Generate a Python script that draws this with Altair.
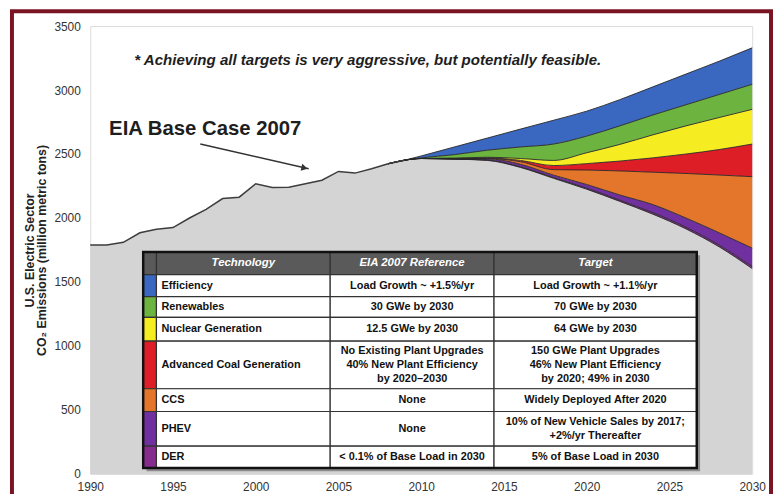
import altair as alt
import pandas as pd

# ---------------- data ----------------
hist_years = list(range(1990, 2010))
hist_values = [1790, 1790, 1810, 1885, 1912, 1925, 2000, 2068, 2152, 2163,
               2268, 2238, 2240, 2268, 2295, 2364, 2351, 2385, 2424, 2452]

fc_years = [2008, 2009, 2010, 2012, 2014, 2016, 2018, 2020, 2022, 2024, 2026, 2028, 2030]
target_values = [2424, 2452, 2465, 2460, 2450, 2395, 2310, 2225, 2130, 2030, 1915, 1775, 1605]
der = [0, 0, 0, 1, 3, 5, 6, 8, 10, 12, 13, 14, 15]
phev = [0, 0, 0, 1, 9, 20, 19, 29, 40, 63, 72, 96, 145]
ccs = [0, 0, 0, 0, 3, 20, 43, 113, 188, 253, 348, 451, 558]
coal = [0, 0, 0, 2, 5, 10, 32, 50, 77, 112, 152, 199, 255]
nuclear = [0, 0, 1, 4, 5, 15, 40, 85, 130, 180, 220, 250, 271]
renewables = [0, 0, 4, 27, 55, 90, 128, 130, 145, 155, 165, 180, 196]
efficiency = [0, 0, 15, 60, 95, 140, 186, 195, 205, 220, 240, 260, 285]

tech_names = ["Efficiency", "Renewables", "Nuclear Generation",
              "Advanced Coal Generation", "CCS", "PHEV", "DER"]
tech_colors = ["#3a67c0", "#6cb33f", "#f6ec22", "#dd1e26", "#e4762b", "#7030a0", "#862c8f"]
eia_ref = ["Load Growth ~ +1.5%/yr", "30 GWe by 2030", "12.5 GWe by 2030",
           "No Existing Plant Upgrades\n40% New Plant Efficiency\nby 2020\u20132030",
           "None", "None", "< 0.1% of Base Load in 2030"]
targets = ["Load Growth ~ +1.1%/yr", "70 GWe by 2030", "64 GWe by 2030",
           "150 GWe Plant Upgrades\n46% New Plant Efficiency\nby 2020; 49% in 2030",
           "Widely Deployed After 2020",
           "10% of New Vehicle Sales by 2017;\n+2%/yr Thereafter",
           "5% of Base Load in 2030"]
headers = ["Technology", "EIA 2007 Reference", "Target"]

x_ticks = list(range(1990, 2031, 5))
y_ticks = list(range(0, 3501, 500))

# ---------------- layout constants (plot units) ----------------
tbl_x = [1993.2, 1994.0, 2004.5, 2014.4, 2026.65]
tbl_y = [1735, 1557, 1386, 1223, 1038, 666, 488, 217, 46]
FONT = "Liberation Sans"
LINE_H = 14.5
TFS = 11

# ---------------- build tables ----------------
wedge_order = ["DER", "PHEV", "CCS", "Advanced Coal Generation",
               "Nuclear Generation", "Renewables", "Efficiency"]
wedge_vals = {"DER": der, "PHEV": phev, "CCS": ccs, "Advanced Coal Generation": coal,
              "Nuclear Generation": nuclear, "Renewables": renewables, "Efficiency": efficiency}
color_of = dict(zip(tech_names, tech_colors))

band_rows, line_rows = [], []
cum = list(target_values)
for y, v in zip(fc_years, cum):
    line_rows.append({"year": y, "v": v, "b": "target"})
for name in wedge_order:
    new = [c + w for c, w in zip(cum, wedge_vals[name])]
    for yr, lo, hi in zip(fc_years, cum, new):
        band_rows.append({"year": yr, "lo": lo, "hi": hi, "tech": name, "fill": color_of[name]})
        line_rows.append({"year": yr, "v": hi, "b": name})
    cum = new
band_df = pd.DataFrame(band_rows)
line_df = pd.DataFrame(line_rows)
hist_df = pd.DataFrame({"year": hist_years, "v": hist_values})
fc_df = pd.DataFrame({"year": fc_years, "v": target_values})

# table cells
cells = []
for c in range(4):
    cells.append({"x0": tbl_x[c], "x1": tbl_x[c + 1], "y0": tbl_y[0], "y1": tbl_y[1], "fill": "#5a5a5a"})
for r in range(7):
    for c in range(4):
        cells.append({"x0": tbl_x[c], "x1": tbl_x[c + 1], "y0": tbl_y[r + 1], "y1": tbl_y[r + 2],
                      "fill": tech_colors[r] if c == 0 else "#ffffff"})
cell_df = pd.DataFrame(cells)

head_df = pd.DataFrame({
    "x": [(tbl_x[1] + tbl_x[2]) / 2, (tbl_x[2] + tbl_x[3]) / 2, (tbl_x[3] + tbl_x[4]) / 2],
    "y": [(tbl_y[0] + tbl_y[1]) / 2] * 3,
    "t": headers})
mid_y = [(tbl_y[r + 1] + tbl_y[r + 2]) / 2 for r in range(7)]
tech_df = pd.DataFrame({"x": [tbl_x[1] + 0.3] * 7, "y": mid_y, "t": tech_names})
center_df = pd.DataFrame({
    "x": [(tbl_x[2] + tbl_x[3]) / 2] * 7 + [(tbl_x[3] + tbl_x[4]) / 2] * 7,
    "y": mid_y + mid_y,
    "t": eia_ref + targets})
center_df["n"] = center_df["t"].str.count("\n") + 1
outer_df = pd.DataFrame({"x0": [tbl_x[0]], "x1": [tbl_x[-1]], "y0": [tbl_y[0]], "y1": [tbl_y[-1]]})
shadow_df = pd.DataFrame({"x0": [tbl_x[0] + 0.2], "x1": [tbl_x[-1] + 0.2],
                          "y0": [tbl_y[0] - 25], "y1": [tbl_y[-1] - 25]})

arrow_df = pd.DataFrame({"x": [1996.65], "y": [2578], "x2": [2003.2], "y2": [2385]})
head_pt = pd.DataFrame({"x": [2002.95], "y": [2391]})
label_df = pd.DataFrame({"x": [1991.14], "y": [2695], "t": ["EIA Base Case 2007"]})
note_df = pd.DataFrame({"x": [2006.77], "y": [3237],
                        "t": ["* Achieving all targets is very aggressive, but potentially feasible."]})

# ---------------- chart ----------------
xscale = alt.Scale(domain=[1990, 2030], nice=False, zero=False)
yscale = alt.Scale(domain=[0, 3500], nice=False)
xaxis = alt.Axis(values=x_ticks, format="d", title=None, ticks=False, domain=False, grid=False,
                 labelFlush=False, labelFontSize=12, labelColor="#333333", labelPadding=8,
                 labelFont=FONT)
yaxis = alt.Axis(values=y_ticks, format="d", ticks=False, domain=False, grid=False,
                 labelFlush=False, labelFontSize=12, labelColor="#333333", labelPadding=10,
                 labelFont=FONT,
                 title=["U.S. Electric Sector", "CO\u2082 Emissions (million metric tons)"],
                 titleFontSize=12.5, titleFontWeight="bold", titleColor="#222222",
                 titlePadding=5, titleFont=FONT, titleLineHeight=13)


def X(f):
    return alt.X(f, scale=xscale, axis=xaxis)


def Y(f):
    return alt.Y(f, scale=yscale, axis=yaxis)


gray_hist = alt.Chart(hist_df).mark_area(color="#d4d4d4").encode(x=X("year:Q"), y=Y("v:Q"))
gray_fc = alt.Chart(fc_df).mark_area(color="#d4d4d4", interpolate="monotone").encode(
    x=X("year:Q"), y=Y("v:Q"))
bands = alt.Chart(band_df).mark_area(interpolate="monotone").encode(
    x=X("year:Q"), y=Y("lo:Q"), y2="hi:Q",
    fill=alt.Fill("fill:N", scale=None), detail="tech:N")
blines = alt.Chart(line_df).mark_line(interpolate="monotone", color="#262626", strokeWidth=0.9).encode(
    x=X("year:Q"), y=Y("v:Q"), detail="b:N")
hist_line = alt.Chart(hist_df).mark_line(color="#3d3d3d", strokeWidth=1.5).encode(
    x=X("year:Q"), y=Y("v:Q"))

shadow = alt.Chart(shadow_df).mark_rect(color="#8c8c8c").encode(
    x=X("x0:Q"), x2="x1:Q", y=Y("y0:Q"), y2="y1:Q")
cell_layer = alt.Chart(cell_df).mark_rect(stroke="#333333", strokeWidth=1.2).encode(
    x=X("x0:Q"), x2="x1:Q", y=Y("y0:Q"), y2="y1:Q",
    fill=alt.Fill("fill:N", scale=None))
outer = alt.Chart(outer_df).mark_rect(fill="transparent", stroke="#111111", strokeWidth=2.5).encode(
    x=X("x0:Q"), x2="x1:Q", y=Y("y0:Q"), y2="y1:Q")

head_txt = alt.Chart(head_df).mark_text(font=FONT, fontSize=11.5, fontWeight="bold", fontStyle="italic",
                                        color="#ffffff", baseline="middle").encode(
    x=X("x:Q"), y=Y("y:Q"), text="t:N")
tech_txt = alt.Chart(tech_df).mark_text(font=FONT, fontSize=TFS, fontWeight="bold", color="#111111",
                                        align="left", baseline="middle").encode(
    x=X("x:Q"), y=Y("y:Q"), text="t:N")

center_layers = []
for n in sorted(center_df["n"].unique()):
    sub = center_df[center_df["n"] == n][["x", "y", "t"]]
    center_layers.append(
        alt.Chart(sub).mark_text(font=FONT, fontSize=TFS, fontWeight="bold", color="#111111",
                                 align="center", baseline="middle", lineBreak="\n",
                                 lineHeight=LINE_H, dy=-(int(n) - 1) * LINE_H / 2).encode(
            x=X("x:Q"), y=Y("y:Q"), text="t:N"))

arrow = alt.Chart(arrow_df).mark_rule(color="#333333", strokeWidth=1.4).encode(
    x=X("x:Q"), y=Y("y:Q"), x2="x2:Q", y2="y2:Q")
arrow_head = alt.Chart(head_pt).mark_point(shape="triangle-right", filled=True, size=55,
                                           color="#333333", opacity=1, angle=13).encode(
    x=X("x:Q"), y=Y("y:Q"))
label = alt.Chart(label_df).mark_text(font=FONT, fontSize=20.5, fontWeight="bold", color="#1e1e1e",
                                      align="left", baseline="middle").encode(
    x=X("x:Q"), y=Y("y:Q"), text="t:N")
note = alt.Chart(note_df).mark_text(font=FONT, fontSize=15.2, fontWeight="bold", fontStyle="italic",
                                    color="#1e1e1e", align="center", baseline="middle").encode(
    x=X("x:Q"), y=Y("y:Q"), text="t:N")

frame = alt.Chart(pd.DataFrame({"k": [0]})).mark_rect(fill="transparent", stroke="#7a1422",
                                                      strokeWidth=4).encode(
    x=alt.value(-79), x2=alt.value(687), y=alt.value(-15), y2=alt.value(480))

chart = alt.layer(
    gray_hist, gray_fc, bands, blines, hist_line,
    shadow, cell_layer, outer, head_txt, tech_txt, *center_layers,
    arrow, arrow_head, label, note, frame
).properties(
    width=668, height=452,
    autosize=alt.AutoSizeParams(type="none"),
    padding={"left": 83, "top": 16, "right": 21, "bottom": 18},
    background="#ffffff"
).configure_view(stroke="#c8c8c8", strokeWidth=1.5).configure(font=FONT)

chart.save("out.html", embed_options={"renderer": "svg", "actions": False})
